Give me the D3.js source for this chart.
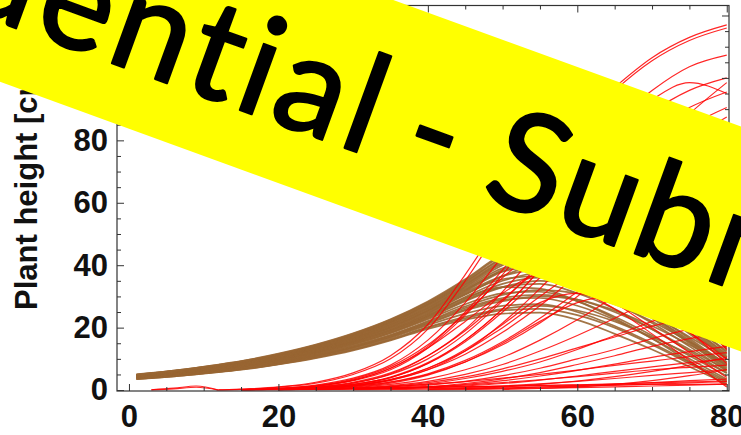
<!DOCTYPE html>
<html>
<head>
<meta charset="utf-8">
<script src="https://cdn.jsdelivr.net/npm/d3@7"></script>
<style>
  html, body { margin: 0; padding: 0; background: #fff; overflow: hidden; }
</style>
</head>
<body>
<svg id="chart" width="741" height="435"></svg>
<script>
// ---- data -------------------------------------------------------------
const _ = null; // not yet emerged / no longer present

// sampling days (x)
const days = [1, 3, 6, 9, 12, 15, 20, 25, 30, 35, 40, 45, 50, 55, 60, 65, 70, 75, 80];

// crop plants (brown): height in cm on each sampling day
const cropHeights = [
  [3.5, 3.8, 4.4, 5.0, 5.7, 6.5, 8.2, 10.2, 12.7, 15.9, 19.6, 22.5, 24.5, 24.8, 22.5, 18.0, 13.0, 7.5, 2.0],
  [3.55, 3.9, 4.4, 5.1, 5.8, 6.6, 8.3, 10.4, 12.9, 16.1, 20.0, 23.0, 25.5, 26.0, 24.0, 20.0, 14.5, 8.5, 2.5],
  [3.6, 3.9, 4.5, 5.1, 5.9, 6.7, 8.4, 10.5, 13.1, 16.4, 20.2, 23.5, 26.0, 27.0, 25.5, 22.0, 17.0, 11.5, 5.5],
  [3.7, 4.0, 4.6, 5.3, 6.0, 6.9, 8.6, 10.8, 13.5, 16.8, 20.8, 24.5, 27.0, 27.5, 25.0, 20.5, 15.0, 9.0, 3.0],
  [3.75, 4.1, 4.7, 5.4, 6.1, 7.0, 8.7, 10.9, 13.6, 17.0, 21.2, 25.5, 28.5, 30.0, 29.0, 25.5, 20.5, 14.5, 8.0],
  [3.8, 4.2, 4.7, 5.4, 6.2, 7.1, 8.9, 11.1, 13.8, 17.3, 21.5, 25.8, 29.0, 29.5, 27.0, 22.5, 16.5, 10.0, 3.5],
  [3.85, 4.2, 4.8, 5.5, 6.3, 7.2, 9.0, 11.2, 14.0, 17.5, 21.8, 26.3, 29.5, 30.5, 29.0, 25.0, 19.5, 13.0, 6.5],
  [3.9, 4.3, 4.9, 5.6, 6.4, 7.3, 9.1, 11.4, 14.2, 17.7, 22.1, 26.8, 30.5, 32.0, 31.0, 27.5, 22.0, 15.5, 8.5],
  [4.0, 4.4, 5.0, 5.7, 6.5, 7.5, 9.3, 11.6, 14.5, 18.2, 22.7, 27.5, 31.0, 31.5, 28.5, 23.5, 17.5, 11.0, 4.5],
  [4.05, 4.4, 5.1, 5.8, 6.6, 7.6, 9.4, 11.8, 14.7, 18.4, 23.0, 28.5, 33.0, 35.0, 34.0, 30.0, 24.0, 17.0, 10.0],
  [4.1, 4.5, 5.1, 5.9, 6.7, 7.6, 9.6, 11.9, 14.9, 18.6, 23.3, 28.8, 33.0, 34.0, 31.0, 26.0, 19.5, 12.5, 5.5],
  [4.15, 4.5, 5.2, 5.9, 6.8, 7.7, 9.7, 12.1, 15.1, 18.9, 23.6, 29.2, 34.0, 36.0, 34.5, 30.0, 23.5, 16.0, 7.5],
  [4.2, 4.6, 5.2, 6.0, 6.9, 7.8, 9.8, 12.2, 15.3, 19.1, 23.8, 29.8, 35.0, 37.5, 36.5, 32.5, 26.0, 18.5, 10.5],
  [4.25, 4.6, 5.3, 6.1, 6.9, 7.9, 9.9, 12.4, 15.5, 19.3, 24.1, 29.5, 33.0, 32.5, 28.5, 23.0, 16.5, 9.0, 1.5],
  [4.3, 4.7, 5.4, 6.1, 7.0, 8.0, 10.0, 12.5, 15.6, 19.5, 24.4, 30.5, 36.5, 40.0, 39.5, 35.5, 29.0, 21.0, 12.5],
  [4.35, 4.8, 5.4, 6.2, 7.1, 8.1, 10.1, 12.7, 15.8, 19.8, 24.7, 30.8, 35.5, 36.5, 33.5, 28.0, 21.5, 14.0, 6.0],
  [4.4, 4.8, 5.5, 6.3, 7.2, 8.2, 10.3, 12.8, 16.0, 20.0, 25.0, 31.2, 36.5, 38.5, 36.0, 30.5, 23.5, 15.5, 7.0],
  [4.45, 4.9, 5.6, 6.4, 7.3, 8.3, 10.4, 13.0, 16.2, 20.2, 25.3, 31.6, 38.0, 41.5, 40.5, 36.0, 29.0, 20.5, 11.5],
  [4.5, 4.9, 5.6, 6.4, 7.3, 8.4, 10.5, 13.1, 16.4, 20.4, 25.5, 31.9, 38.5, 42.5, 42.0, 38.0, 31.5, 23.0, 13.5],
  [4.55, 5.0, 5.7, 6.5, 7.4, 8.5, 10.6, 13.3, 16.6, 20.7, 25.8, 32.2, 38.0, 39.5, 36.5, 30.5, 23.0, 15.0, 6.5],
  [4.6, 5.0, 5.7, 6.6, 7.5, 8.6, 10.7, 13.4, 16.7, 20.9, 26.1, 32.6, 39.0, 41.0, 38.0, 32.0, 24.5, 16.5, 8.0],
  [4.65, 5.1, 5.8, 6.6, 7.6, 8.7, 10.8, 13.5, 16.9, 21.1, 26.4, 33.0, 40.0, 44.0, 43.5, 39.5, 32.5, 24.0, 14.0],
  [4.7, 5.1, 5.9, 6.7, 7.7, 8.8, 11.0, 13.7, 17.1, 21.4, 26.7, 33.3, 40.5, 43.0, 40.0, 34.0, 26.5, 18.0, 9.0],
  [4.75, 5.2, 5.9, 6.8, 7.8, 8.9, 11.1, 13.9, 17.3, 21.6, 27.0, 33.7, 41.0, 44.5, 42.0, 36.0, 28.5, 19.5, 10.0],
  [4.8, 5.2, 6.0, 6.9, 7.8, 9.0, 11.2, 14.0, 17.5, 21.8, 27.3, 34.0, 41.5, 46.0, 46.0, 41.5, 34.0, 25.0, 13.0],
  [4.85, 5.3, 6.1, 6.9, 7.9, 9.0, 11.3, 14.1, 17.6, 22.0, 27.5, 34.4, 42.0, 45.0, 42.5, 36.5, 29.0, 20.0, 10.5],
  [4.9, 5.4, 6.1, 7.0, 8.0, 9.1, 11.4, 14.3, 17.8, 22.3, 27.8, 34.7, 42.5, 47.5, 48.0, 44.0, 36.5, 27.0, 16.0],
  [4.95, 5.4, 6.2, 7.1, 8.1, 9.2, 11.5, 14.4, 18.0, 22.5, 28.1, 35.1, 43.0, 46.0, 43.0, 37.0, 29.5, 20.5, 11.0],
  [5.0, 5.5, 6.2, 7.1, 8.2, 9.3, 11.7, 14.6, 18.2, 22.7, 28.4, 35.5, 43.5, 47.0, 44.5, 38.5, 30.5, 21.5, 12.0]
];

// weeds (red): height in cm on each sampling day
const weedHeights = [
  [_, 0.1, 0.6, 1.3, 0, _, _, _, _, _, _, _, _, _, _, _, _, _, _],
  [_, 0.05, 0.4, 0.9, 0, _, _, _, _, _, _, _, _, _, _, _, _, _, _],
  [_, _, _, _, 0.05, 0.3, 1.0, 2.5, 5.5, 11, 21, 37, 55, 72, 86, 97, 106.5, 113, 117],
  [_, _, _, _, 0.05, 0.2, 0.9, 2.2, 5.0, 10, 19.5, 35, 53, 70, 84.5, 96, 105.5, 112, 116],
  [_, _, _, _, _, 0.1, 0.6, 1.6, 3.8, 8, 16, 28, 43, 59, 74, 86, 96, 103.6, 107.3],
  [_, _, _, _, _, 0.05, 0.4, 1.2, 3.0, 6.5, 13.5, 24, 37, 52, 67, 79, 89, 96, 100],
  [_, _, _, _, _, 0.05, 0.4, 1.3, 3.2, 7, 14, 25, 38.5, 54, 69, 83, 93, 98.5, 95],
  [_, _, _, _, _, _, 0.2, 0.7, 1.8, 4, 8.5, 16, 26, 38.5, 52, 65, 77, 88.5, 98.5],
  [_, _, _, _, _, _, 0.3, 0.9, 2.3, 5.2, 11, 19.5, 31.5, 45, 59, 72, 83, 90.5, 95.5],
  [_, _, _, _, _, _, 0.2, 0.7, 1.8, 4.2, 8.8, 16, 26, 38.5, 52, 65, 76, 84.5, 90.5],
  [_, _, _, _, _, _, 0.15, 0.5, 1.3, 3.1, 6.5, 12.5, 21.5, 32.5, 45, 58, 70, 80, 87.5],
  [_, _, _, _, _, _, 0.2, 0.6, 1.5, 3.2, 6.5, 11.5, 18.5, 27, 37, 47.5, 58, 67, 75],
  [_, _, _, _, _, _, 0.1, 0.4, 1.1, 2.5, 5, 9, 14.5, 21.5, 30, 39, 47.5, 55.5, 62],
  [_, _, _, _, _, _, _, 0.3, 0.8, 1.8, 3.6, 6.5, 10.5, 16, 22.5, 30, 37, 44, 50],
  [_, _, _, _, _, _, _, 0.2, 0.6, 1.4, 2.8, 5, 8.2, 12.5, 17.5, 23, 29, 35, 40],
  [_, _, _, _, _, _, _, _, 0.4, 1, 2, 3.7, 6, 9, 13, 17.5, 22, 26.5, 30],
  [_, _, _, _, _, _, _, _, 0.3, 0.8, 1.6, 2.8, 4.6, 7, 10, 13, 16.5, 19.5, 22],
  [_, _, _, _, _, _, _, _, _, 0.5, 1, 1.8, 3, 4.5, 6.3, 8.3, 10.5, 12.3, 14],
  [_, _, _, _, _, _, _, _, _, 0.3, 0.7, 1.3, 2.1, 3.2, 4.5, 6, 7.4, 8.8, 10],
  [_, _, _, _, _, _, _, _, _, _, 0.4, 0.8, 1.3, 2, 2.8, 3.7, 4.7, 5.6, 6.5],
  [_, _, _, _, _, _, _, _, _, _, _, 0.3, 0.6, 1, 1.4, 1.9, 2.4, 3, 3.5],
  [_, _, _, _, _, _, 0.1, 0.3, 0.6, 1.1, 1.8, 2.7, 3.8, 5, 6.4, 7.9, 9.3, 10.7, 12],
  [_, _, _, _, _, _, _, 0.1, 0.3, 0.6, 1.0, 1.6, 2.4, 3.3, 4.3, 5.4, 6.5, 7.3, 8],
  [_, _, _, _, _, _, _, 0.2, 0.5, 1.2, 2.4, 4.2, 6.8, 10, 13.5, 17, 20.5, 23, 25],
  [_, _, _, _, _, _, 0.15, 0.5, 1.2, 2.6, 5.2, 9.5, 15.5, 23, 31.5, 40, 47, 52, 55],
  [_, _, _, _, _, _, _, _, _, _, 0.2, 0.5, 1, 1.8, 2.9, 4.3, 6, 8, 10.5],
  [_, _, _, _, _, _, _, _, _, _, _, _, 0.2, 0.5, 1.0, 1.8, 3, 4.6, 6.5],
  [_, _, _, _, _, _, _, _, 0.2, 0.5, 1.1, 2.1, 3.6, 5.6, 8.2, 11, 14, 16.5, 18.5],
  [_, _, _, _, _, 0.05, 0.15, 0.3, 0.5, 0.7, 0.9, 1.1, 1.3, 1.5, 1.6, 1.7, 1.8, 1.8, 1.9],
  [_, _, _, _, _, _, 0.1, 0.2, 0.4, 0.6, 0.8, 1.0, 1.2, 1.4, 1.7, 2.0, 2.3, 2.6, 2.9],
  [_, _, _, _, _, _, _, _, 0.1, 0.2, 0.3, 0.5, 0.7, 0.9, 1.2, 1.5, 1.9, 2.3, 2.7],
  [_, _, _, _, _, _, _, _, _, _, 0.1, 0.2, 0.4, 0.6, 0.8, 1.0, 1.3, 1.6, 1.9],
  [_, _, _, _, _, _, 0.3, 1, 2.5, 5.5, 11, 19, 29, 38, 40, 35, 27, 18.5, 10],
  [_, _, _, _, _, _, 0.4, 1.3, 3.2, 7, 13.5, 22, 31, 37, 35, 28, 20, 12, 4],
  [_, _, _, _, _, _, 0.2, 0.7, 1.8, 4, 8.5, 15.5, 25, 36, 46, 46, 37, 25.5, 13],
  [_, _, _, _, _, _, _, 0.5, 1.4, 3.3, 7, 12.5, 20, 28, 31, 26, 18, 9.5, 1],
  [_, _, _, _, _, _, 0.3, 0.9, 2.2, 5, 10, 18, 28.5, 40, 50, 52, 44, 30, 14],
  [_, _, _, _, _, _, _, 0.3, 0.9, 2.2, 4.8, 9, 15, 22, 28, 30, 26, 18.5, 8.5],
  [_, _, _, _, _, 0.1, 0.5, 1.4, 3.5, 7.5, 14.5, 24.5, 36, 45, 48, 44, 36, 26, 15],
  [_, _, _, _, _, _, 0.2, 0.6, 1.5, 3.4, 7, 13, 21, 30, 38, 42, 40, 33, 23]
];

// axis ticks and labels
const xMajorTicks = [0, 20, 40, 60, 80];
const xMinorTicks = [5, 10, 15, 25, 30, 35, 45, 50, 55, 65, 70, 75];
const yMajorTicks = [0, 20, 40, 60, 80, 100, 120];
const yMinorTicks = [5, 10, 15, 25, 30, 35, 45, 50, 55, 65, 70, 75, 85, 90, 95, 105, 110, 115];
const yTitle = "Plant height [cm]";
const stampWords = ["Confidential", "-", "Submitted"];

// ---- layout -----------------------------------------------------------
const svg = d3.select("#chart");
const plot = { left: 117, right: 729, top: 5.5, bottom: 391 };

const x = d3.scaleLinear().domain([-1.6, 80.3]).range([plot.left, plot.right]);
const y = d3.scaleLinear().domain([-0.3, 123.2]).range([plot.bottom, plot.top]);

svg.append("defs").append("clipPath").attr("id", "plotClip")
  .append("rect")
  .attr("x", plot.left).attr("y", plot.top)
  .attr("width", plot.right - plot.left).attr("height", plot.bottom - plot.top);

// ---- curves -----------------------------------------------------------
const line = d3.line()
  .defined(d => d[1] !== null)
  .x(d => x(d[0]))
  .y(d => y(d[1]))
  .curve(d3.curveMonotoneX);

const toPoints = row => days.map((d, i) => [d, row[i]]);

const curves = svg.append("g").attr("clip-path", "url(#plotClip)");

curves.selectAll("path.crop")
  .data(cropHeights)
  .join("path")
  .attr("class", "crop")
  .attr("d", r => line(toPoints(r)))
  .attr("fill", "none")
  .attr("stroke", "#996633")
  .attr("stroke-width", 1.7)
  .attr("stroke-opacity", 0.9);

curves.selectAll("path.weed")
  .data(weedHeights)
  .join("path")
  .attr("class", "weed")
  .attr("d", r => line(toPoints(r)))
  .attr("fill", "none")
  .attr("stroke", "#ff0000")
  .attr("stroke-width", 1.2)
  .attr("stroke-opacity", 0.85);

// ---- frame and ticks --------------------------------------------------
const tickFont = "'Liberation Sans', Arial, Helvetica, sans-serif";

function styleAxis(g) {
  g.select(".domain").remove();
  g.selectAll(".tick line").attr("stroke", "#333").attr("stroke-width", 1);
  g.selectAll(".tick text")
    .attr("font-family", tickFont)
    .attr("font-weight", "bold")
    .attr("font-size", 31)
    .attr("fill", "#111");
}

// bottom
svg.append("g").attr("transform", `translate(0,${plot.bottom})`)
  .call(d3.axisBottom(x).tickValues(xMajorTicks).tickSizeInner(-7).tickSizeOuter(0).tickPadding(14))
  .call(styleAxis);
svg.append("g").attr("transform", `translate(0,${plot.bottom})`)
  .call(d3.axisBottom(x).tickValues(xMinorTicks).tickSizeInner(-4).tickSizeOuter(0).tickFormat(""))
  .call(styleAxis);
// top
svg.append("g").attr("transform", `translate(0,${plot.top})`)
  .call(d3.axisTop(x).tickValues(xMajorTicks).tickSizeInner(-7).tickSizeOuter(0).tickFormat(""))
  .call(styleAxis);
svg.append("g").attr("transform", `translate(0,${plot.top})`)
  .call(d3.axisTop(x).tickValues(xMinorTicks).tickSizeInner(-4).tickSizeOuter(0).tickFormat(""))
  .call(styleAxis);
// left
svg.append("g").attr("transform", `translate(${plot.left},0)`)
  .call(d3.axisLeft(y).tickValues(yMajorTicks).tickSizeInner(-7).tickSizeOuter(0).tickPadding(9))
  .call(styleAxis);
svg.append("g").attr("transform", `translate(${plot.left},0)`)
  .call(d3.axisLeft(y).tickValues(yMinorTicks).tickSizeInner(-4).tickSizeOuter(0).tickFormat(""))
  .call(styleAxis);
// right
svg.append("g").attr("transform", `translate(${plot.right},0)`)
  .call(d3.axisRight(y).tickValues(yMajorTicks).tickSizeInner(-7).tickSizeOuter(0).tickFormat(""))
  .call(styleAxis);
svg.append("g").attr("transform", `translate(${plot.right},0)`)
  .call(d3.axisRight(y).tickValues(yMinorTicks).tickSizeInner(-4).tickSizeOuter(0).tickFormat(""))
  .call(styleAxis);

svg.append("rect")
  .attr("x", plot.left).attr("y", plot.top)
  .attr("width", plot.right - plot.left).attr("height", plot.bottom - plot.top)
  .attr("fill", "none").attr("stroke", "#333").attr("stroke-width", 1.2);

// y-axis title
svg.append("text")
  .attr("transform", "translate(37,310) rotate(-90)")
  .attr("text-anchor", "start")
  .attr("font-family", tickFont)
  .attr("font-weight", "bold")
  .attr("font-size", 31)
  .attr("fill", "#111")
  .text(yTitle);

// ---- diagonal stamp -----------------------------------------------------
const stamp = svg.append("g").attr("transform", "rotate(20)");
stamp.append("rect")
  .attr("x", -400).attr("y", -134.5)
  .attr("width", 1600).attr("height", 211.3)
  .attr("fill", "#ffff00");

const stampFont = "Lato, 'Open Sans', 'Noto Sans', sans-serif";
const stampBase = 21;
const stampSize = 138;

function stampText(label, xPos, anchor, spacing) {
  stamp.append("text")
    .attr("x", xPos).attr("y", stampBase)
    .attr("text-anchor", anchor)
    .attr("font-family", stampFont).attr("font-size", stampSize)
    .attr("letter-spacing", spacing)
    .attr("fill", "#000")
    .attr("stroke", "#000").attr("stroke-width", 2.5).attr("stroke-linejoin", "round")
    .text(label);
}
stampText(stampWords[0], 402, "end", 5);
stampText(stampWords[1], 455, "middle", 0);
stampText(stampWords[2], 517, "start", 3);
</script>
</body>
</html>
